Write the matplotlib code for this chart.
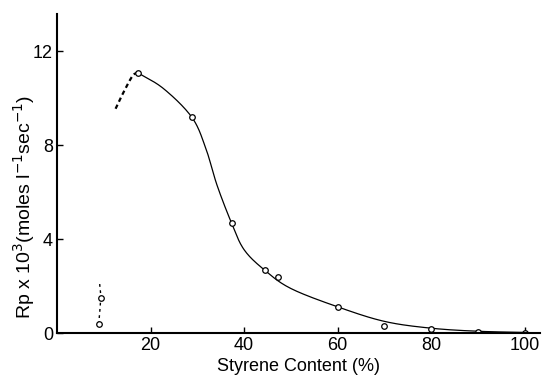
import matplotlib
matplotlib.use("Agg")
import matplotlib.pyplot as plt
import numpy as np

plt.rcParams['font.family'] = ['Liberation Sans Narrow', 'Liberation Sans', 'DejaVu Sans']
plt.rcParams['mathtext.fontset'] = 'custom'
plt.rcParams['mathtext.rm'] = 'Liberation Sans Narrow'
plt.rcParams['mathtext.it'] = 'Liberation Sans Narrow'

# Measured data points (open circles)
styrene = [8.9, 9.3, 17.2, 28.8, 37.3, 44.4, 47.2, 60.0, 70.0, 80.0, 90.0, 100.0]
rp = [0.38, 1.48, 11.1, 9.2, 4.69, 2.68, 2.41, 1.12, 0.32, 0.18, 0.05, 0.02]

# Hand-drawn solid curve
curve_x = [17.2, 22.8, 28.8, 31.75, 34.2, 37.3, 40.0, 44.4, 50.0, 60.0, 70.0,
           80.0, 90.0, 100.0]
curve_y = [11.1, 10.41, 9.2, 7.9, 6.3, 4.69, 3.55, 2.68, 1.9, 1.12, 0.5,
           0.21, 0.08, 0.03]

# Dashed extrapolations
dash_peak_x = [12.5, 14.2, 16.1, 17.2]
dash_peak_y = [9.56, 10.26, 10.95, 11.1]
dash_low_x = [8.9, 9.3, 9.1]
dash_low_y = [0.38, 1.48, 2.1]

xticks = [20, 40, 60, 80, 100]
yticks = [0, 4, 8, 12]


def smooth(xs, ys, n=20):
    """Catmull-Rom rendering of a traced hand-drawn line."""
    p = np.column_stack([xs, ys]).astype(float)
    p = np.vstack([2 * p[0] - p[1], p, 2 * p[-1] - p[-2]])
    out = []
    t = np.linspace(0, 1, n, endpoint=False)[:, None]
    for i in range(1, len(p) - 2):
        p0, p1, p2, p3 = p[i - 1], p[i], p[i + 1], p[i + 2]
        seg = 0.5 * ((2 * p1) + (-p0 + p2) * t + (2 * p0 - 5 * p1 + 4 * p2 - p3) * t ** 2
                     + (-p0 + 3 * p1 - 3 * p2 + p3) * t ** 3)
        out.append(seg)
    out.append(p[-2][None, :])
    out = np.vstack(out)
    return out[:, 0], out[:, 1]


fig = plt.figure(figsize=(5.44, 3.76), dpi=100)
ax = fig.add_axes([0.105, 0.114, 0.888, 0.849])

sx, sy = smooth(curve_x, curve_y)
ax.plot(sx, sy, color="black", lw=0.9)
dx, dy = smooth(dash_peak_x, dash_peak_y)
ax.plot(dx, dy, color="black", lw=1.6, ls=(0, (2, 1.5)))
lx, ly = smooth(dash_low_x, dash_low_y)
ax.plot(lx, ly, color="black", lw=1.0, ls=(0, (2, 2.5)))
ax.plot(styrene, rp, ls="none", marker="o", ms=4, mfc="white", mec="black", mew=0.9)

ax.set_xlim(0, 103.3)
ax.set_ylim(0, 13.6)
ax.set_xticks(xticks)
ax.set_yticks(yticks)
ax.tick_params(direction="in", length=4, width=1, labelsize=13, pad=3)
for s in ["top", "right"]:
    ax.spines[s].set_visible(False)
for s in ["left", "bottom"]:
    ax.spines[s].set_linewidth(1.5)

ax.set_xlabel("Styrene Content (%)", fontsize=13, labelpad=3)
ax.set_ylabel(r"Rp x 10$^3$(moles l$^{-1}$sec$^{-1}$)", fontsize=14)
ax.yaxis.set_label_coords(-0.041, 0.395)

fig.savefig("out.png", dpi=100)
